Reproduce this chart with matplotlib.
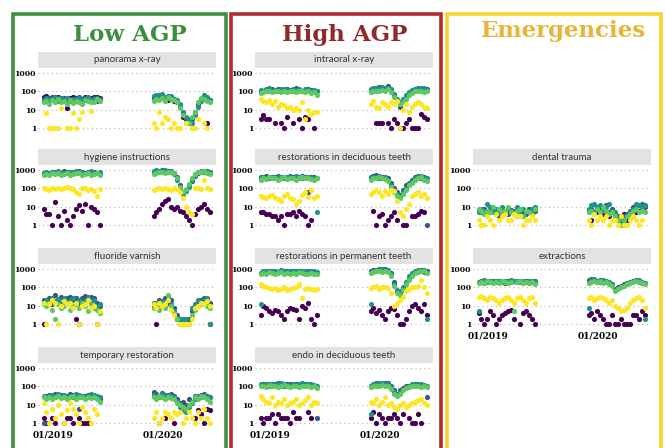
import matplotlib
matplotlib.use('Agg')
import matplotlib.pyplot as plt
from matplotlib.patches import Rectangle
import numpy as np
import pandas as pd

# weekly-ish reporting dates, two winter/spring periods
dates_2019 = pd.date_range('2018-12-01', '2019-06-05', periods=20)
dates_2020 = pd.date_range('2019-12-01', '2020-06-05', periods=20)

group_colors = ['#440154', '#3b528b', '#21918c', '#5ec962', '#fde725']

# ---- Low AGP ----
pano_g1 = [50, 55, 45, 40, 48, 52, 45, 38, 12, 42, 50, 45, 25, 40, 50, 45, 42, 48, 50, 45,
           50, 45, 55, 50, 40, 35, 45, 30, 25, 0, 4, 3, 2, 0, 8, 20, 40, 50, 2, 35]
pano_g2 = [40, 35, 45, 50, 38, 42, 30, 45, 35, 40, 28, 45, 50, 38, 42, 35, 40, 45, 30, 40,
           45, 55, 60, 50, 40, 55, 45, 40, 30, 15, 6, 3, 2, 3, 6, 20, 35, 50, 40, 30]
pano_g3 = [30, 45, 35, 40, 50, 30, 45, 35, 42, 30, 40, 35, 45, 30, 40, 50, 35, 40, 45, 35,
           55, 60, 65, 70, 50, 45, 55, 40, 35, 20, 8, 4, 3, 2, 5, 15, 30, 60, 50, 35]
pano_g4 = [25, 30, 20, 35, 28, 40, 25, 30, 20, 35, 22, 30, 25, 20, 35, 30, 28, 25, 40, 30,
           30, 40, 35, 45, 30, 50, 40, 35, 25, 12, 5, 2, 2, 4, 8, 25, 45, 40, 30, 25]
pano_g5 = [0, 7, 1, 1, 1, 1, 12, 0, 1, 1, 7, 1, 3, 8, 0, 0, 9, 0, 0, 0,
           2, 1, 8, 2, 4, 3, 1, 2, 1, 1, 0, 2, 0, 1, 1, 3, 0, 2, 1, 0]

hyg_g1 = [8, 4, 4, 1, 18, 3, 1, 6, 2, 1, 3, 8, 12, 6, 15, 1, 10, 8, 5, 1,
          3, 5, 8, 15, 20, 25, 10, 8, 10, 6, 5, 3, 2, 1, 4, 8, 10, 15, 8, 5]
hyg_g2 = [650, 700, 600, 750, 800, 650, 700, 850, 750, 700, 800, 650, 900, 750, 700, 800, 650, 750, 700, 600,
          800, 900, 850, 950, 800, 900, 850, 700, 400, 150, 60, 80, 150, 250, 450, 700, 800, 850, 900, 700]
hyg_g3 = [700, 800, 650, 700, 750, 850, 700, 650, 800, 750, 700, 850, 750, 800, 650, 700, 850, 700, 650, 750,
          900, 1000, 850, 900, 950, 800, 900, 600, 300, 100, 50, 70, 120, 300, 500, 800, 900, 800, 850, 800]
hyg_g4 = [500, 600, 550, 650, 600, 700, 550, 600, 650, 550, 600, 700, 650, 550, 600, 650, 550, 600, 700, 500,
          600, 700, 750, 800, 700, 750, 800, 650, 350, 120, 60, 90, 180, 350, 600, 750, 800, 850, 700, 600]
hyg_g5 = [100, 90, 80, 100, 95, 110, 90, 100, 120, 100, 90, 60, 50, 110, 100, 80, 90, 70, 40, 90,
          80, 90, 100, 95, 100, 90, 85, 100, 90, 60, 30, 10, 5, 4, 100, 100, 90, 300, 100, 90]

fluor_g1 = [1, 0, 0, 0, 0, 0, 0, 0, 0, 0, 0, 2, 1, 0, 0, 0, 0, 0, 1, 0,
            0, 1, 0, 0, 0, 0, 0, 0, 2, 0, 0, 0, 0, 0, 0, 0, 0, 0, 0, 1]
fluor_g2 = [20, 15, 25, 12, 40, 20, 30, 18, 25, 30, 20, 28, 15, 25, 35, 20, 30, 25, 15, 10,
            15, 12, 20, 10, 25, 15, 20, 8, 3, 2, 2, 2, 2, 5, 10, 15, 20, 25, 20, 15]
fluor_g3 = [15, 20, 12, 25, 18, 22, 15, 28, 12, 20, 25, 15, 20, 12, 18, 30, 15, 20, 10, 12,
            10, 15, 12, 18, 10, 30, 12, 5, 2, 2, 2, 2, 1, 8, 12, 20, 15, 20, 25, 1]
fluor_g4 = [12, 10, 15, 6, 2, 12, 8, 10, 15, 6, 10, 12, 8, 15, 10, 5, 12, 8, 6, 4,
            8, 10, 6, 12, 8, 40, 10, 4, 2, 1, 1, 1, 1, 3, 6, 10, 12, 15, 10, 8]
fluor_g5 = [15, 1, 12, 20, 15, 1, 10, 18, 12, 15, 8, 15, 1, 10, 12, 20, 8, 10, 1, 5,
            12, 8, 15, 10, 12, 20, 6, 3, 0, 1, 1, 1, 1, 2, 8, 10, 15, 12, 18, 10]

temp_g1 = [2, 1, 0, 2, 1, 0, 0, 1, 2, 2, 1, 0, 2, 1, 1, 1, 0, 0, 0, 0,
           0, 0, 1, 0, 2, 0, 0, 1, 0, 0, 0, 0, 0, 0, 2, 5, 3, 1, 6, 5]
temp_g2 = [1, 30, 35, 25, 40, 30, 35, 25, 30, 40, 35, 30, 6, 25, 30, 35, 28, 30, 25, 20,
           50, 40, 30, 45, 35, 25, 40, 30, 20, 12, 15, 10, 20, 15, 30, 25, 35, 40, 30, 25]
temp_g3 = [30, 25, 30, 35, 28, 40, 30, 35, 25, 30, 28, 40, 35, 30, 25, 30, 40, 35, 30, 25,
           35, 30, 25, 40, 30, 35, 30, 25, 15, 8, 5, 4, 8, 12, 20, 30, 25, 35, 30, 28]
temp_g4 = [25, 20, 28, 20, 25, 30, 22, 28, 20, 25, 30, 20, 25, 28, 20, 25, 22, 28, 20, 15,
           25, 20, 30, 25, 20, 28, 22, 20, 12, 10, 8, 6, 10, 15, 25, 20, 30, 25, 20, 15]
temp_g5 = [12, 4, 1, 6, 2, 10, 3, 1, 5, 12, 6, 3, 1, 8, 4, 2, 1, 6, 3, 0,
           2, 4, 1, 2, 4, 3, 2, 4, 3, 4, 1, 2, 4, 2, 1, 4, 2, 6, 2, 1]

# ---- High AGP ----
intra_g1 = [3, 5, 3, 3, 0, 2, 0, 2, 1, 4, 0, 2, 0, 3, 1, 4, 3, 0, 1, 0,
            0, 0, 2, 2, 2, 0, 2, 1, 3, 2, 1, 1, 2, 3, 1, 1, 1, 6, 4, 3]
intra_g2 = [90, 110, 120, 100, 130, 110, 140, 120, 100, 130, 120, 110, 150, 120, 100, 110, 130, 120, 110, 100,
            110, 130, 150, 170, 140, 160, 200, 120, 60, 30, 15, 30, 50, 80, 100, 130, 150, 120, 140, 130]
intra_g3 = [120, 100, 130, 150, 110, 120, 100, 130, 140, 120, 110, 130, 120, 140, 110, 130, 120, 100, 120, 110,
            130, 150, 160, 140, 180, 150, 160, 130, 70, 40, 25, 40, 60, 90, 120, 140, 130, 150, 160, 120]
intra_g4 = [80, 90, 100, 110, 90, 100, 110, 90, 100, 90, 110, 100, 90, 100, 110, 90, 100, 80, 90, 60,
            90, 100, 110, 100, 120, 110, 130, 90, 50, 30, 20, 25, 40, 60, 80, 100, 110, 100, 90, 100]
intra_g5 = [40, 30, 25, 35, 20, 30, 15, 20, 18, 12, 15, 10, 12, 10, 25, 3, 10, 6, 8, 8,
            20, 30, 15, 12, 25, 20, 15, 25, 20, 30, 1, 10, 20, 8, 15, 20, 25, 20, 15, 12]

decid_g1 = [5, 5, 4, 4, 3, 3, 2, 3, 1, 4, 4, 5, 3, 6, 4, 3, 1, 2, 0, 0,
            0, 6, 1, 3, 4, 1, 2, 3, 5, 2, 0, 1, 1, 0, 3, 3, 4, 6, 5, 0]
decid_g2 = [400, 350, 450, 380, 420, 400, 450, 380, 400, 420, 450, 400, 380, 420, 450, 400, 60, 420, 400, 380,
            400, 450, 500, 380, 420, 400, 350, 200, 100, 60, 45, 80, 150, 200, 300, 400, 450, 350, 400, 1]
decid_g3 = [350, 400, 380, 420, 400, 380, 420, 400, 350, 400, 420, 380, 450, 400, 380, 420, 400, 350, 380, 5,
            350, 400, 420, 450, 380, 400, 300, 150, 80, 50, 40, 60, 100, 180, 250, 350, 400, 450, 380, 350]
decid_g4 = [300, 350, 320, 400, 350, 380, 300, 350, 400, 320, 350, 380, 300, 350, 400, 380, 350, 320, 300, 350,
            300, 350, 380, 400, 350, 320, 250, 120, 60, 40, 30, 50, 80, 150, 200, 300, 350, 400, 300, 250]
decid_g5 = [40, 35, 30, 40, 45, 30, 25, 20, 40, 50, 30, 25, 15, 20, 45, 60, 35, 80, 30, 40,
            50, 60, 80, 60, 40, 70, 50, 80, 70, 20, 5, 3, 8, 15, 40, 50, 60, 40, 50, 30]

perm_g1 = [3, 10, 8, 5, 4, 6, 5, 3, 2, 5, 8, 7, 6, 2, 10, 8, 15, 2, 1, 3,
           5, 8, 4, 6, 3, 2, 5, 8, 7, 3, 1, 1, 2, 5, 10, 12, 8, 5, 12, 3]
perm_g2 = [600, 700, 650, 750, 800, 700, 650, 800, 750, 700, 650, 750, 700, 800, 650, 700, 750, 650, 700, 600,
           800, 900, 850, 1000, 900, 950, 800, 600, 200, 60, 50, 80, 150, 300, 500, 700, 800, 900, 700, 800]
perm_g3 = [12, 800, 750, 700, 800, 750, 700, 850, 700, 750, 800, 700, 750, 700, 800, 750, 700, 800, 750, 700,
           12, 800, 900, 850, 950, 900, 850, 500, 150, 70, 60, 100, 200, 400, 600, 800, 900, 800, 850, 2]
perm_g4 = [500, 600, 550, 650, 600, 550, 600, 650, 550, 600, 500, 600, 550, 650, 600, 550, 500, 600, 550, 500,
           600, 700, 750, 800, 700, 750, 700, 400, 120, 50, 40, 70, 150, 250, 400, 600, 700, 750, 800, 600]
perm_g5 = [150, 120, 100, 90, 80, 90, 70, 80, 100, 70, 80, 90, 100, 150, 25, 80, 90, 80, 70, 80,
           90, 100, 120, 80, 100, 110, 90, 50, 10, 15, 20, 30, 60, 80, 100, 100, 120, 250, 100, 50]

endo_g1 = [2, 1, 2, 2, 3, 1, 3, 2, 2, 2, 1, 4, 2, 2, 0, 0, 4, 2, 0, 0,
           2, 4, 1, 3, 2, 1, 2, 2, 3, 2, 1, 3, 0, 2, 1, 1, 3, 1, 0, 0]
endo_g2 = [120, 130, 110, 140, 120, 130, 150, 120, 110, 130, 140, 120, 130, 110, 140, 130, 120, 110, 100, 2,
           100, 120, 150, 130, 140, 160, 150, 100, 60, 40, 60, 80, 100, 110, 120, 130, 120, 110, 100, 25]
endo_g3 = [140, 120, 130, 110, 140, 120, 130, 150, 130, 120, 110, 140, 120, 130, 150, 120, 130, 140, 120, 110,
           3, 140, 130, 150, 160, 140, 130, 90, 50, 35, 50, 70, 90, 100, 130, 120, 140, 130, 120, 110]
endo_g4 = [100, 110, 90, 120, 100, 110, 90, 100, 120, 110, 90, 100, 110, 90, 100, 110, 100, 90, 100, 80,
           90, 100, 110, 100, 120, 110, 100, 70, 40, 30, 40, 60, 80, 90, 100, 110, 100, 90, 100, 90]
endo_g5 = [30, 20, 15, 12, 25, 10, 15, 12, 20, 10, 12, 15, 20, 10, 12, 18, 25, 10, 15, 12,
           15, 12, 20, 10, 15, 25, 10, 12, 8, 6, 10, 12, 8, 10, 12, 15, 18, 20, 12, 10]

# ---- Emergencies ----
trauma_g1 = [0, 5, 0, 0, 6, 0, 0, 4, 0, 0, 5, 0, 0, 0, 6, 0, 0, 0, 4, 0,
             0, 2, 0, 5, 0, 4, 0, 3, 0, 0, 0, 2, 4, 2, 0, 3, 5, 6, 0, 0]
trauma_g2 = [6, 5, 8, 4, 6, 7, 5, 3, 6, 5, 4, 7, 6, 3, 5, 6, 4, 8, 5, 6,
             6, 8, 5, 10, 8, 6, 12, 5, 8, 4, 3, 2, 3, 4, 6, 10, 8, 12, 15, 10]
trauma_g3 = [5, 8, 6, 15, 10, 5, 8, 6, 10, 5, 8, 6, 5, 10, 6, 8, 5, 6, 8, 10,
             8, 12, 15, 10, 12, 8, 10, 15, 6, 5, 2, 2, 1, 3, 5, 8, 15, 12, 10, 12]
trauma_g4 = [8, 6, 4, 6, 5, 10, 4, 8, 5, 6, 10, 5, 4, 6, 8, 3, 6, 5, 4, 8,
             5, 6, 4, 8, 5, 10, 6, 4, 5, 3, 2, 1, 2, 3, 4, 6, 8, 5, 6, 5]
trauma_g5 = [2, 1, 1, 3, 2, 1, 4, 2, 3, 4, 2, 2, 4, 3, 3, 1, 2, 2, 3, 2,
             2, 1, 4, 2, 3, 2, 3, 1, 2, 2, 1, 3, 1, 1, 2, 3, 2, 1, 2, 0]

extr_g1 = [4, 2, 1, 2, 5, 3, 1, 2, 3, 4, 5, 6, 2, 0, 1, 4, 5, 3, 2, 1,
           3, 4, 2, 5, 3, 2, 1, 1, 3, 1, 1, 2, 1, 1, 1, 3, 3, 2, 5, 3]
extr_g2 = [200, 220, 180, 230, 200, 210, 190, 220, 200, 180, 230, 200, 220, 190, 210, 200, 230, 180, 200, 220,
           250, 300, 220, 200, 240, 200, 220, 180, 150, 80, 100, 120, 150, 180, 200, 220, 250, 200, 180, 170]
extr_g3 = [5, 200, 240, 190, 220, 200, 230, 210, 190, 220, 200, 240, 210, 230, 200, 220, 190, 210, 230, 200,
           8, 250, 280, 230, 200, 250, 210, 190, 140, 70, 90, 110, 130, 160, 190, 210, 230, 240, 200, 2]
extr_g4 = [180, 200, 170, 210, 190, 180, 200, 170, 210, 190, 180, 200, 5, 190, 210, 180, 200, 170, 190, 160,
           180, 200, 220, 190, 210, 180, 200, 160, 120, 60, 80, 100, 120, 150, 170, 190, 210, 200, 180, 160]
extr_g5 = [30, 35, 25, 20, 30, 25, 20, 15, 20, 25, 30, 20, 15, 25, 30, 20, 15, 25, 30, 15,
           25, 30, 20, 25, 30, 25, 20, 15, 20, 10, 8, 5, 6, 8, 15, 20, 25, 30, 20, 8]

# (title, column, row, series)
panels = [
    ('panorama x-ray', 0, 0, [pano_g1, pano_g2, pano_g3, pano_g4, pano_g5]),
    ('hygiene instructions', 0, 1, [hyg_g1, hyg_g2, hyg_g3, hyg_g4, hyg_g5]),
    ('fluoride varnish', 0, 2, [fluor_g1, fluor_g2, fluor_g3, fluor_g4, fluor_g5]),
    ('temporary restoration', 0, 3, [temp_g1, temp_g2, temp_g3, temp_g4, temp_g5]),
    ('intraoral x-ray', 1, 0, [intra_g1, intra_g2, intra_g3, intra_g4, intra_g5]),
    ('restorations in deciduous teeth', 1, 1, [decid_g1, decid_g2, decid_g3, decid_g4, decid_g5]),
    ('restorations in permanent teeth', 1, 2, [perm_g1, perm_g2, perm_g3, perm_g4, perm_g5]),
    ('endo in deciduous teeth', 1, 3, [endo_g1, endo_g2, endo_g3, endo_g4, endo_g5]),
    ('dental trauma', 2, 1, [trauma_g1, trauma_g2, trauma_g3, trauma_g4, trauma_g5]),
    ('extractions', 2, 2, [extr_g1, extr_g2, extr_g3, extr_g4, extr_g5]),
]
bottom_panels = {(0, 3), (1, 3), (2, 2)}

column_titles = ['Low AGP', 'High AGP', 'Emergencies']
title_colors = ['#3e8e41', '#8f2a2a', '#e8b43a']
box_colors = ['#3f8f3f', '#b02c2c', '#f7d32e']

W, H = 665, 448
fig = plt.figure(figsize=(W / 100, H / 100), dpi=100)


def rect(x, y, w, h):
    # pixel box (top-left origin) -> figure fraction
    return [x / W, 1 - (y + h) / H, w / W, h / H]


col_left = [38, 255, 473]
col_width = 178
strip_top = [52, 149, 248, 347]
strip_h = 16
plot_h = 65

day0 = pd.Timestamp('2019-01-01')
x19 = (dates_2019 - day0).days.values
x20 = (dates_2020 - day0).days.values
xs = np.concatenate([x19, x20])

# column boxes and titles
box_x = [(13, 226), (231, 441), (447, 661)]
for (x0, x1), col in zip(box_x, box_colors):
    fig.patches.append(Rectangle((x0 / W, -0.05), (x1 - x0) / W, 1 + 0.05 - 14 / H,
                                 transform=fig.transFigure, fill=False,
                                 edgecolor=col, lw=2.6, clip_on=False))
title_x = [130, 345, 564]
title_base = [41, 41, 37]
for t, tx, ty, c in zip(column_titles, title_x, title_base, title_colors):
    fig.text(tx / W, 1 - ty / H, t, ha='center', va='baseline', color=c,
             fontsize=16.5, fontweight='bold', family='DejaVu Serif')

for name, col, row, series in panels:
    x0 = col_left[col]
    y0 = strip_top[row]

    sax = fig.add_axes(rect(x0, y0, col_width, strip_h))
    sax.set_facecolor('#e3e3e3')
    sax.set_xticks([])
    sax.set_yticks([])
    for s in sax.spines.values():
        s.set_visible(False)
    sax.text(0.5, 0.5, name, ha='center', va='center', fontsize=7,
             color='#333333', family='Lato', transform=sax.transAxes)

    ax = fig.add_axes(rect(x0, y0 + strip_h, col_width, plot_h))
    ax.set_yscale('log')
    for vals, c in zip(series, group_colors):
        v = np.array(vals, dtype=float)
        m = v > 0
        ax.scatter(xs[m], v[m], s=14, color=c, linewidths=0, zorder=3)
    ax.set_ylim(0.55, 1850)
    ax.set_xlim(-50, 541)
    ax.set_yticks([1, 10, 100, 1000])
    ax.set_yticklabels(['1', '10', '100', '1000'], family='DejaVu Serif',
                       fontweight='bold', fontsize=5.5)
    ax.yaxis.set_minor_locator(matplotlib.ticker.NullLocator())
    ax.grid(axis='y', linestyle=(0, (1, 3)), color='#b5b5b5', lw=0.8, zorder=0)
    ax.set_xticks([0, 365])
    if (col, row) in bottom_panels:
        ax.set_xticklabels(['01/2019', '01/2020'], family='DejaVu Serif',
                           fontweight='bold', fontsize=6.5)
    else:
        ax.set_xticklabels([])
    ax.tick_params(length=0, pad=1.5)
    for s in ax.spines.values():
        s.set_visible(False)

fig.savefig('out.png', dpi=100)
